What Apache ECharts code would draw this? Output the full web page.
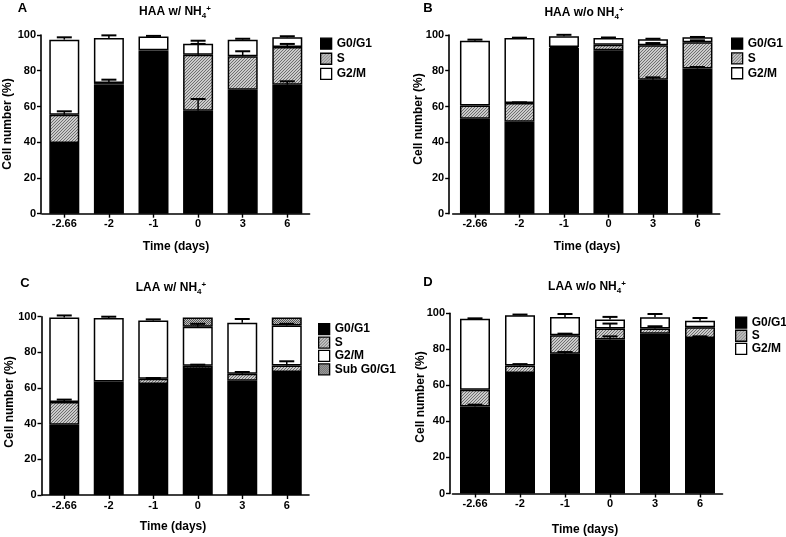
<!DOCTYPE html>
<html><head><meta charset="utf-8">
<script src="https://cdn.jsdelivr.net/npm/echarts@6/dist/echarts.min.js"></script>
<style>html,body{margin:0;padding:0;background:#fff}#c{width:786px;height:537px}</style>
</head><body><div id="c"></div>
<script>
// ---------- data ----------
const categories = ['-2.66', '-2', '-1', '0', '3', '6'];
const yTicks = [0, 20, 40, 60, 80, 100];

// Panel A: HAA w/ NH4+
const aG0 = [39.6, 72.2, 90.5, 57.6, 69.4, 72.2];
const aS  = [15.8, 0.9, 0.9, 31.4, 18.7, 21.1];
const aG2 = [42.0, 25.2, 7.7, 6.1, 9.3, 5.4];
const aErrG0 = [0, 0, 0, 6.6, 0, 1.9];
const aErrS  = [1.9, 1.9, 0, 6.0, 2.8, 1.7];
const aErrG2 = [1.3, 1.5, 0.4, 1.7, 0.5, 0.6];

// Panel B: HAA w/o NH4+
const bG0 = [53.2, 51.5, 92.7, 91.4, 75.0, 81.2];
const bS  = [7.4, 10.4, 0.6, 3.2, 19.2, 14.7];
const bG2 = [36.2, 36.4, 6.0, 3.7, 3.4, 2.8];
const bErrG0 = [0, 0, 0, 0, 1.3, 0.9];
const bErrS  = [0, 0.4, 0, 0, 1.3, 1.1];
const bErrG2 = [0.6, 0.2, 0.8, 0.3, 0.3, 0.2];

// Panel C: LAA w/ NH4+
const cG0  = [39.4, 62.2, 62.2, 70.7, 64.1, 69.0];
const cS   = [12.7, 1.5, 3.0, 1.8, 3.9, 3.7];
const cG2  = [47.5, 35.6, 32.6, 21.9, 28.6, 22.3];
const cSub = [0, 0, 0, 5.2, 0, 4.6];
const cErrG0 = [0, 0, 0, 0, 0, 0];
const cErrS  = [1.4, 0, 0.4, 0.6, 1.0, 2.3];
const cErrG2 = [1.1, 0.7, 0.7, 1.6, 2.1, 1.0];

// Panel D: LAA w/o NH4+
const dG0 = [48.3, 66.9, 77.6, 85.4, 88.7, 86.3];
const dS  = [9.3, 4.2, 10.2, 6.1, 2.8, 5.9];
const dG2 = [39.4, 27.8, 10.2, 5.0, 6.3, 3.7];
const dErrG0 = [1.0, 0, 0.9, 1.8, 0, 0.9];
const dErrS  = [0, 0.7, 0.9, 2.8, 1.3, 0];
const dErrG2 = [0.2, 0.4, 1.6, 1.5, 1.8, 1.5];

const phaseNames = ['G0/G1', 'S', 'G2/M', 'Sub G0/G1'];
const titlesMain = ['HAA w/ NH', 'HAA w/o NH', 'LAA w/ NH', 'LAA w/o NH'];
const letters = ['A', 'B', 'C', 'D'];
const xName = 'Time (days)';
const yName = 'Cell number (%)';

// ---------- styles ----------
const FONT = '"Liberation Sans", Arial, sans-serif';
function hatch() {
  const c = document.createElement('canvas'); c.width = 3; c.height = 3;
  const g = c.getContext('2d');
  g.fillStyle = '#cacaca'; g.fillRect(0, 0, 3, 3);
  g.fillStyle = '#6e6e6e';
  for (let i = 0; i < 3; i++) g.fillRect(i, 2 - i, 1, 1);
  return c;
}
function checker() {
  const c = document.createElement('canvas'); c.width = 2; c.height = 2;
  const g = c.getContext('2d');
  g.fillStyle = '#bdbdbd'; g.fillRect(0, 0, 2, 2);
  g.fillStyle = '#555'; g.fillRect(0, 0, 1, 1); g.fillRect(1, 1, 1, 1);
  return c;
}
const fills = ['#000', { image: hatch(), repeat: 'repeat' }, '#fff', { image: checker(), repeat: 'repeat' }];

const panels = [
  { segs: [aG0, aS, aG2], errs: [aErrG0, aErrS, aErrG2] },
  { segs: [bG0, bS, bG2], errs: [bErrG0, bErrS, bErrG2] },
  { segs: [cG0, cS, cG2, cSub], errs: [cErrG0, cErrS, cErrG2, null] },
  { segs: [dG0, dS, dG2], errs: [dErrG0, dErrS, dErrG2] }
];

// layout
const grids = [
  { left: 42, top: 35, width: 267.6, height: 178.7 },
  { left: 452.7, top: 35, width: 267, height: 178.7 },
  { left: 42, top: 316.7, width: 267, height: 178.3 },
  { left: 452.5, top: 313.3, width: 270, height: 180.2 }
];
const yOffsets = [1, 3.5, 0.5, 2.5];
const legendPos = [
  { left: 320, top: 37.5, gap: 2.8 },
  { left: 731, top: 37.5, gap: 2.5 },
  { left: 318, top: 323, gap: 1.1 },
  { left: 735, top: 316.5, gap: 0.8 }
];
const titlePos = [[175, 12], [584, 12.5], [171, 288], [587, 286.5]];
const letterPos = [[22.5, 8], [428, 8], [25, 283], [428, 282]];
const xNamePos = [[176, 247], [587, 247], [173, 527], [585, 530]];
const yNamePos = [[7.5, 124], [418.5, 119], [9.5, 402], [421, 397]];

const option = {
  animation: false,
  backgroundColor: '#fff',
  grid: grids.map(g => Object.assign({ containLabel: false }, g)),
  xAxis: grids.map((g, i) => ({
    type: 'category', gridIndex: i, data: categories,
    axisLine: { show: true, lineStyle: { color: '#000', width: 1.6 } },
    axisTick: { show: true, alignWithLabel: true, length: 4, lineStyle: { color: '#000', width: 1.4 } },
    axisLabel: { color: '#000', fontFamily: FONT, fontWeight: 'bold', fontSize: 11, margin: 5 },
    splitLine: { show: false }
  })),
  yAxis: grids.map((g, i) => ({
    type: 'value', gridIndex: i, min: 0, max: 100, interval: 20, offset: yOffsets[i],
    axisLine: { show: true, lineStyle: { color: '#000', width: 1.6 } },
    axisTick: { show: true, length: 4, lineStyle: { color: '#000', width: 1.4 } },
    axisLabel: { color: '#000', fontFamily: FONT, fontWeight: 'bold', fontSize: 11, margin: 5,
      formatter: v => yTicks.indexOf(v) >= 0 ? String(v) : '' },
    splitLine: { show: false }
  })),
  legend: panels.map((p, i) => ({
    orient: 'vertical', left: legendPos[i].left, top: legendPos[i].top,
    icon: 'rect',
    itemWidth: 11, itemHeight: 11, itemGap: legendPos[i].gap, padding: 0,
    selectedMode: false,
    data: phaseNames.slice(0, p.segs.length),
    textStyle: { color: '#000', fontFamily: FONT, fontWeight: 'bold', fontSize: 12, lineHeight: 12 },
    itemStyle: { borderColor: '#000', borderWidth: 1.3 }
  })),
  series: [],
  graphic: []
};

panels.forEach((p, i) => {
  p.segs.forEach((arr, k) => {
    option.series.push({
      type: 'bar', name: phaseNames[k], xAxisIndex: i, yAxisIndex: i, stack: 'st' + i,
      barWidth: 30,
      data: arr.map(v => v > 0 ? v : '-'),
      itemStyle: { color: fills[k], borderColor: '#000', borderWidth: 1.5 },
      emphasis: { disabled: true }
    });
  });
  // error bars (upward only), built from segment tops
  const errData = [];
  categories.forEach((c, j) => {
    let cum = 0;
    p.segs.forEach((arr, k) => {
      cum += arr[j];
      const e = p.errs[k] ? p.errs[k][j] : 0;
      if (e > 0) errData.push([j, cum, cum + e]);
    });
  });
  option.series.push({
    type: 'custom', xAxisIndex: i, yAxisIndex: i, z: 10, silent: true,
    data: errData,
    renderItem: (params, api) => {
      const x = api.value(0), b = api.value(1), t = api.value(2);
      const p0 = api.coord([x, b]), p1 = api.coord([x, t]);
      return {
        type: 'group', children: [
          { type: 'line', shape: { x1: p0[0], y1: p0[1], x2: p1[0], y2: p1[1] }, style: { stroke: '#000', lineWidth: 1.5 } },
          { type: 'line', shape: { x1: p1[0] - 7.5, y1: p1[1], x2: p1[0] + 7.5, y2: p1[1] }, style: { stroke: '#000', lineWidth: 2 } }
        ]
      };
    }
  });

  const txt = { fill: '#000', fontFamily: FONT, fontWeight: 'bold' };
  option.graphic.push({
    type: 'text', x: titlePos[i][0], y: titlePos[i][1], silent: true,
    style: {
      text: '{m|' + titlesMain[i] + '}{s|4}{p|+}', align: 'center', verticalAlign: 'middle',
      rich: {
        m: Object.assign({ fontSize: 12, lineHeight: 18, verticalAlign: 'middle' }, txt),
        s: Object.assign({ fontSize: 8, lineHeight: 18, verticalAlign: 'bottom', padding: [0, 0, 1, 0] }, txt),
        p: Object.assign({ fontSize: 8, lineHeight: 18, verticalAlign: 'top', padding: [2, 0, 0, 0] }, txt)
      }
    }
  });
  option.graphic.push({
    type: 'text', x: letterPos[i][0], y: letterPos[i][1], silent: true,
    style: Object.assign({ text: letters[i], fontSize: 13, align: 'center', verticalAlign: 'middle' }, txt)
  });
  option.graphic.push({
    type: 'text', x: xNamePos[i][0], y: xNamePos[i][1], silent: true,
    style: Object.assign({ text: xName, fontSize: 12, align: 'center', verticalAlign: 'middle' }, txt)
  });
  option.graphic.push({
    type: 'text', x: yNamePos[i][0], y: yNamePos[i][1], rotation: Math.PI / 2, silent: true,
    style: Object.assign({ text: yName, fontSize: 12, align: 'center', verticalAlign: 'middle' }, txt)
  });
});

const chart = echarts.init(document.getElementById('c'), null, { renderer: 'canvas' });
chart.setOption(option);
</script>
</body></html>
